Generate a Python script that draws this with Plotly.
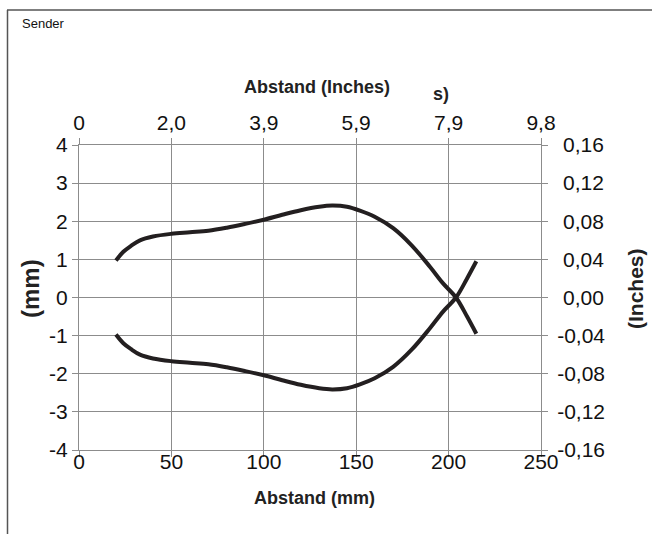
import plotly.graph_objects as go

# Data (mm)
upper_x = [20, 24, 28, 33, 40, 50, 60, 70, 80, 90, 100, 110, 120, 130, 137, 145, 152, 160, 170, 180, 190, 197, 204, 210, 215]
upper_y = [0.97, 1.2, 1.35, 1.5, 1.6, 1.67, 1.71, 1.75, 1.83, 1.93, 2.04, 2.17, 2.29, 2.38, 2.41, 2.38, 2.28, 2.12, 1.82, 1.37, 0.8, 0.37, 0.0, -0.5, -0.95]
lower_x = [20, 24, 28, 33, 40, 50, 60, 70, 80, 90, 100, 110, 120, 130, 137, 145, 152, 160, 170, 180, 190, 197, 204, 210, 215]
lower_y = [-0.97, -1.2, -1.35, -1.5, -1.6, -1.67, -1.71, -1.75, -1.83, -1.93, -2.04, -2.17, -2.29, -2.38, -2.41, -2.38, -2.28, -2.12, -1.82, -1.37, -0.8, -0.37, 0.0, 0.5, 0.95]

x_ticks_mm = [0, 50, 100, 150, 200, 250]
x_ticks_in = ["0", "2,0", "3,9", "5,9", "7,9", "9,8"]
y_ticks_mm = [4, 3, 2, 1, 0, -1, -2, -3, -4]
y_ticks_mm_text = ["4", "3", "2", "1", "0", "-1", "-2", "-3", "-4"]
y_ticks_in = ["\u20080,16", "\u20080,12", "\u20080,08", "\u20080,04", "\u20080,00",
              "-0,04", "-0,08", "-0,12", "-0,16"]

FONT = "Liberation Sans, Arial, sans-serif"
LINE = "#231f20"
GRID = "#8c8c8c"

fig = go.Figure()
fig.add_trace(go.Scatter(x=upper_x, y=upper_y, mode="lines",
                         line=dict(color=LINE, width=4, shape="spline", smoothing=1),
                         showlegend=False, hoverinfo="skip"))
fig.add_trace(go.Scatter(x=lower_x, y=lower_y, mode="lines",
                         line=dict(color=LINE, width=4, shape="spline", smoothing=1),
                         showlegend=False, hoverinfo="skip"))
# invisible trace to anchor secondary axes
fig.add_trace(go.Scatter(x=[0, 250], y=[-4, 4], xaxis="x2", yaxis="y2", mode="markers",
                         marker=dict(opacity=0), showlegend=False, hoverinfo="skip"))

W, H = 652, 534
L, R, T, B = 79, 111, 145, 84
pw, ph = W - L - R, H - T - B

def px(xp):
    return (xp - L) / pw

def py(yp):
    return (H - B - yp) / ph

tickfont = dict(family=FONT, size=21, color="#111")
axis_common = dict(showline=True, linecolor=GRID, linewidth=1, ticks="outside",
                   tickcolor=GRID, ticklen=6, tickwidth=1, zeroline=False,
                   tickfont=tickfont)
TITLE_COLOR = "#222"

fig.update_layout(
    width=W, height=H,
    margin=dict(l=L, r=R, t=T, b=B),
    paper_bgcolor="white", plot_bgcolor="white",
    xaxis=dict(range=[0, 250], tickvals=x_ticks_mm, ticktext=[str(v) for v in x_ticks_mm],
               showgrid=True, gridcolor=GRID, gridwidth=1, ticklabelstandoff=-13,
               **axis_common),
    yaxis=dict(range=[-4, 4], tickvals=y_ticks_mm, ticktext=y_ticks_mm_text,
               showgrid=True, gridcolor=GRID, gridwidth=1, **axis_common),
    xaxis2=dict(range=[0, 250], overlaying="x", side="top", tickvals=x_ticks_mm,
                ticktext=x_ticks_in, showgrid=False, anchor="y", **axis_common),
    yaxis2=dict(range=[-4, 4], overlaying="y", side="right", tickvals=y_ticks_mm,
                ticktext=y_ticks_in, showgrid=False, anchor="x", ticklabelstandoff=5,
                **axis_common),
    annotations=[
        dict(text="Sender", x=px(20), y=py(23), xref="paper", yref="paper", showarrow=False,
             font=dict(family=FONT, size=13, color="#111"), xanchor="left", yanchor="middle"),
        dict(text="<b>Abstand (Inches)</b>", x=px(317), y=py(87), xref="paper", yref="paper",
             showarrow=False, font=dict(family=FONT, size=18, color=TITLE_COLOR),
             xanchor="center", yanchor="middle"),
        dict(text="<b>s)</b>", x=px(441), y=py(94), xref="paper", yref="paper",
             showarrow=False, font=dict(family=FONT, size=18, color=TITLE_COLOR),
             xanchor="center", yanchor="middle"),
        dict(text="<b>Abstand (mm)</b>", x=px(314), y=py(498), xref="paper", yref="paper",
             showarrow=False, font=dict(family=FONT, size=18, color=TITLE_COLOR),
             xanchor="center", yanchor="middle"),
        dict(text="<b>(mm)</b>", x=px(30), y=py(289), xref="paper", yref="paper",
             showarrow=False, textangle=-90, font=dict(family=FONT, size=24, color=TITLE_COLOR),
             xanchor="center", yanchor="middle"),
        dict(text="<b>(Inches)</b>", x=px(635), y=py(289), xref="paper", yref="paper",
             showarrow=False, textangle=-90, font=dict(family=FONT, size=21, color=TITLE_COLOR),
             xanchor="center", yanchor="middle"),
    ],
    shapes=[
        dict(type="line", xref="paper", yref="paper", x0=px(7.5), x1=px(7.5),
             y0=py(10), y1=py(H + 5), line=dict(color="#555", width=1.5)),
        dict(type="line", xref="paper", yref="paper", x0=px(7), x1=px(W + 5),
             y0=py(10), y1=py(10), line=dict(color="#555", width=1.5)),
    ],
)

fig.write_html("out.html", config={"displayModeBar": False},
               post_script="document.body.style.margin='0px';")
